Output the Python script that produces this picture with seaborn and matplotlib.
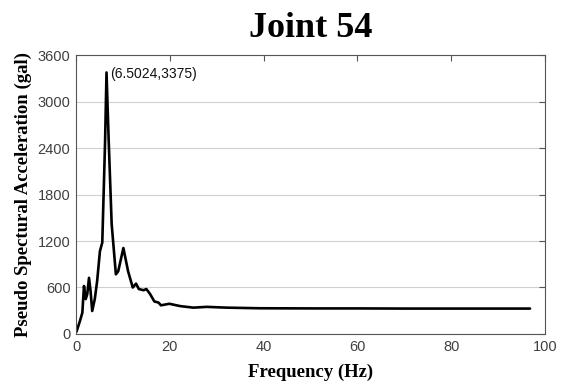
import matplotlib
matplotlib.use("Agg")
import matplotlib.pyplot as plt
import seaborn as sns
import pandas as pd

freq = [0.1, 0.85, 1.35, 1.7, 2.07, 2.4, 2.77, 3.1, 3.45, 4.0, 4.5, 5.1, 5.6, 6.2, 6.5024,
        6.97, 7.6, 8.5, 9.0, 10.1, 11.1, 12.1, 12.8, 13.4, 14.4, 15.0, 15.8, 16.7, 17.6,
        18.1, 19.9, 22.2, 25.0, 27.9, 32.1, 39.2, 50.0, 60.0, 70.0, 80.0, 90.0, 96.8]
accel = [30, 170, 275, 620, 450, 515, 725, 555, 297, 450, 680, 1070, 1180, 2490, 3375,
         2490, 1420, 770, 810, 1110, 810, 600, 650, 580, 565, 580, 515, 420, 405,
         370, 390, 360, 340, 350, 340, 332, 330, 330, 328, 328, 328, 328]
peak_f, peak_a = 6.5024, 3375
yticks = [0, 600, 1200, 1800, 2400, 3000, 3600]
xticks = [0, 20, 40, 60, 80, 100]

sns.set_style("white")
plt.rcParams['font.family'] = ['Liberation Sans', 'DejaVu Sans']
plt.rcParams['text.color'] = 'black'
plt.rcParams['axes.labelcolor'] = 'black'

df = pd.DataFrame({"f": freq, "a": accel})
fig = plt.figure(figsize=(5.61, 3.85), dpi=100)
ax = fig.add_axes([0.1355, 0.1325, 0.836, 0.7245])
sns.lineplot(data=df, x="f", y="a", ax=ax, color="black", linewidth=1.9, sort=False)
ax.set_xlim(0, 100)
ax.set_ylim(0, 3600)
ax.set_xticks(xticks)
ax.set_yticks(yticks)
ax.yaxis.grid(True, color="#d0d0d0", linewidth=0.8)
ax.xaxis.grid(False)
ax.set_axisbelow(True)
for s in ax.spines.values():
    s.set_visible(True)
    s.set_color("#555555")
    s.set_linewidth(0.8)
ax.tick_params(direction="in", length=4, top=True, right=True, color="#555555",
               labelsize=10.5, labelcolor="#404040", pad=4)
ax.annotate(f"({peak_f},{peak_a})", xy=(peak_f + 0.75, 3350), fontsize=10,
            va="center", ha="left", color="#111111")
ax.set_xlabel("Frequency (Hz)", fontfamily="Liberation Serif", fontweight="bold",
              fontsize=13.5, labelpad=7, color="black")
ax.set_ylabel("Pseudo Spectural Acceleration (gal)", fontfamily="Liberation Serif",
              fontweight="bold", fontsize=13.5, labelpad=4, color="black")
fig.text(0.5535, 0.927, "Joint 54", fontfamily="Liberation Serif", fontweight="bold",
         fontsize=26, ha="center", va="center", color="black")
fig.savefig("out.png", dpi=100)
